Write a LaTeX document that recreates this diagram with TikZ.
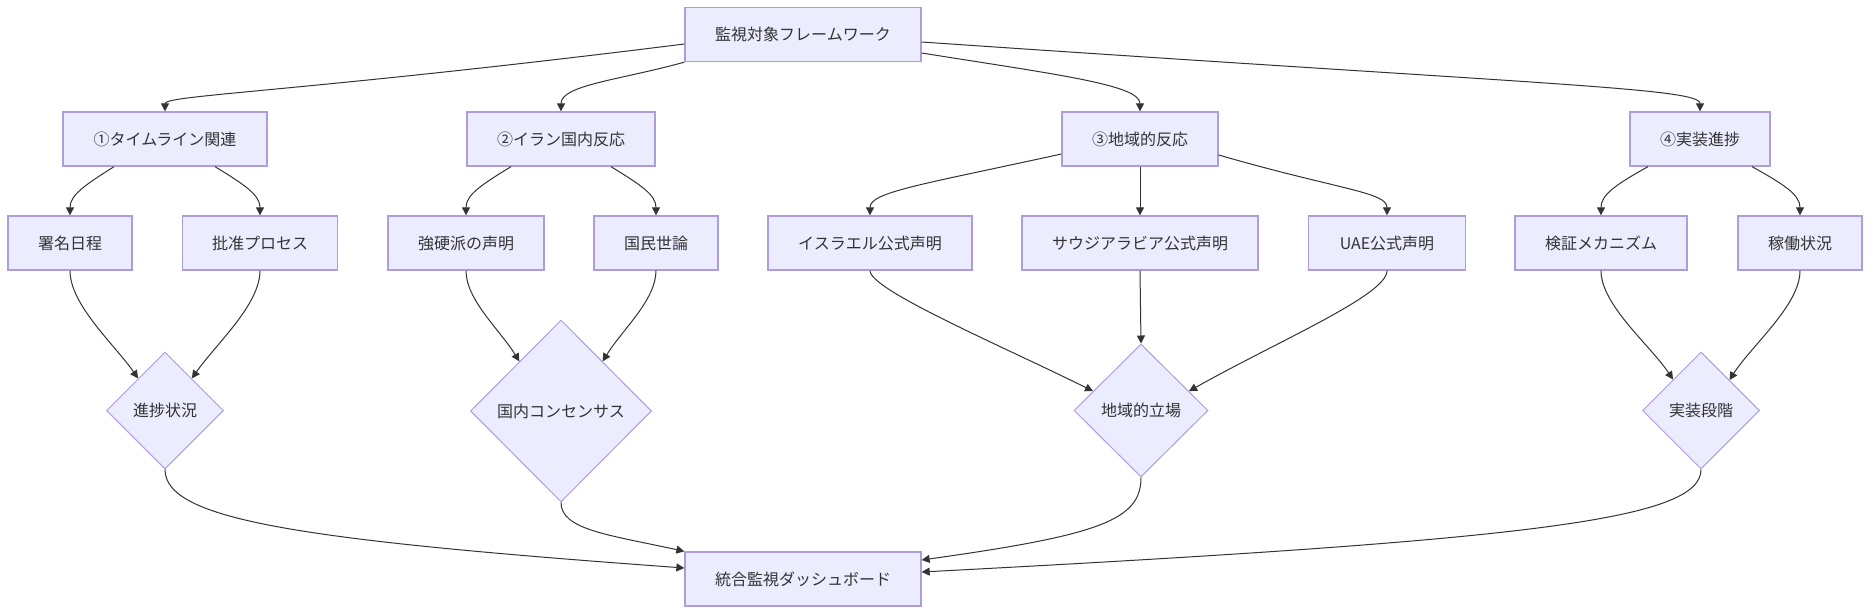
\documentclass[tikz,border=0pt]{standalone}
\usepackage{fontspec}
\setmainfont{Noto Sans CJK JP}
\usetikzlibrary{shapes.geometric,arrows.meta}
\definecolor{nodefill}{HTML}{ECECFF}
\definecolor{nodeline}{HTML}{AE9CDF}
\definecolor{edgecol}{HTML}{333333}
\begin{document}
\begin{tikzpicture}[x=1pt,y=-1pt,
  box/.style={draw=nodeline, fill=nodefill, line width=1.3pt, inner sep=0pt, text=edgecol,
    font=\fontsize{16}{19}\selectfont, minimum height=54pt},
  dia/.style={box, shape=diamond, line width=1pt},
  link/.style={draw=edgecol, line width=1pt, -{Triangle[length=8pt,width=8pt]}}]
\useasboundingbox (0,0) rectangle (1869,614);
% nodes
\node[box, minimum width=236pt] (top) at (803,34.5) {監視対象フレームワーク};
\node[box, minimum width=204pt] (n1) at (165,139) {①タイムライン関連};
\node[box, minimum width=188pt] (n2) at (561,139) {②イラン国内反応};
\node[box, minimum width=156pt] (n3) at (1140,139) {③地域的反応};
\node[box, minimum width=140pt] (n4) at (1700,139) {④実装進捗};
\node[box, minimum width=124pt] (a1) at (70,243) {署名日程};
\node[box, minimum width=155pt] (a2) at (260,243) {批准プロセス};
\node[box, minimum width=156pt] (b1) at (466,243) {強硬派の声明};
\node[box, minimum width=124pt] (b2) at (656,243) {国民世論};
\node[box, minimum width=204pt] (c1) at (870,243) {イスラエル公式声明};
\node[box, minimum width=236pt] (c2) at (1140,243) {サウジアラビア公式声明};
\node[box, minimum width=157pt] (c3) at (1387,243) {UAE公式声明};
\node[box, minimum width=172pt] (d1) at (1601,243) {検証メカニズム};
\node[box, minimum width=124pt] (d2) at (1800,243) {稼働状況};
\node[dia, minimum width=117pt, minimum height=117pt] (p1) at (165,410.5) {進捗状況};
\node[dia, minimum width=181pt, minimum height=182pt] (p2) at (561,411) {国内コンセンサス};
\node[dia, minimum width=134pt, minimum height=133pt] (p3) at (1141,410.5) {地域的立場};
\node[dia, minimum width=117pt, minimum height=117pt] (p4) at (1701,410.5) {実装段階};
\node[box, minimum width=236pt] (bot) at (803,579) {統合監視ダッシュボード};
% top -> level 1
\draw[link] ([yshift=-9.5pt]top.west) .. controls (300,92) and (165,95) .. (n1.north);
\draw[link] (top.south west) .. controls (620,80) and (561,85) .. (n2.north);
\draw[link] ([yshift=-18.5pt]top.east) .. controls (1060,75) and (1140,85) .. (n3.north);
\draw[link] ([yshift=-7.5pt]top.east) .. controls (1550,85) and (1700,88) .. (n4.north);
% level 1 -> level 2
\draw[link] ([xshift=-51pt]n1.south) .. controls (85,185) and (70,195) .. (a1.north);
\draw[link] ([xshift=50pt]n1.south) .. controls (245,185) and (260,195) .. (a2.north);
\draw[link] ([xshift=-50pt]n2.south) .. controls (481,185) and (466,195) .. (b1.north);
\draw[link] ([xshift=50pt]n2.south) .. controls (641,185) and (656,195) .. (b2.north);
\draw[link] ([yshift=-15pt]n3.west) .. controls (920,185) and (870,192) .. (c1.north);
\draw[link] (n3.south) -- (c2.north);
\draw[link] ([yshift=-16pt]n3.east) .. controls (1340,190) and (1387,192) .. (c3.north);
\draw[link] ([xshift=-52pt]n4.south) .. controls (1615,185) and (1601,195) .. (d1.north);
\draw[link] ([xshift=52pt]n4.south) .. controls (1785,185) and (1800,195) .. (d2.north);
% level 2 -> diamonds
\draw[link] (a1.south) .. controls (70,305) and (115,345) .. (p1.130);
\draw[link] (a2.south) .. controls (260,305) and (215,345) .. (p1.50);
\draw[link] (b1.south) .. controls (466,300) and (500,330) .. (p2.130);
\draw[link] (b2.south) .. controls (656,300) and (622,330) .. (p2.50);
\draw[link] (c1.south) .. controls (870,290) and (1000,345) .. (p3.158);
\draw[link] (c2.south) -- (p3.north);
\draw[link] (c3.south) .. controls (1387,295) and (1280,340) .. (p3.22);
\draw[link] (d1.south) .. controls (1601,305) and (1650,345) .. (p4.132);
\draw[link] (d2.south) .. controls (1800,305) and (1752,345) .. (p4.47);
% diamonds -> bottom
\draw[link] (p1.south) .. controls (165,520) and (300,540) .. ([yshift=11pt]bot.west);
\draw[link] (p2.south) .. controls (561,530) and (610,535) .. (bot.north west);
\draw[link] (p3.south) .. controls (1141,520) and (1100,535) .. ([yshift=19pt]bot.east);
\draw[link] (p4.south) .. controls (1701,520) and (1530,540) .. ([yshift=7pt]bot.east);
\end{tikzpicture}
\end{document}
